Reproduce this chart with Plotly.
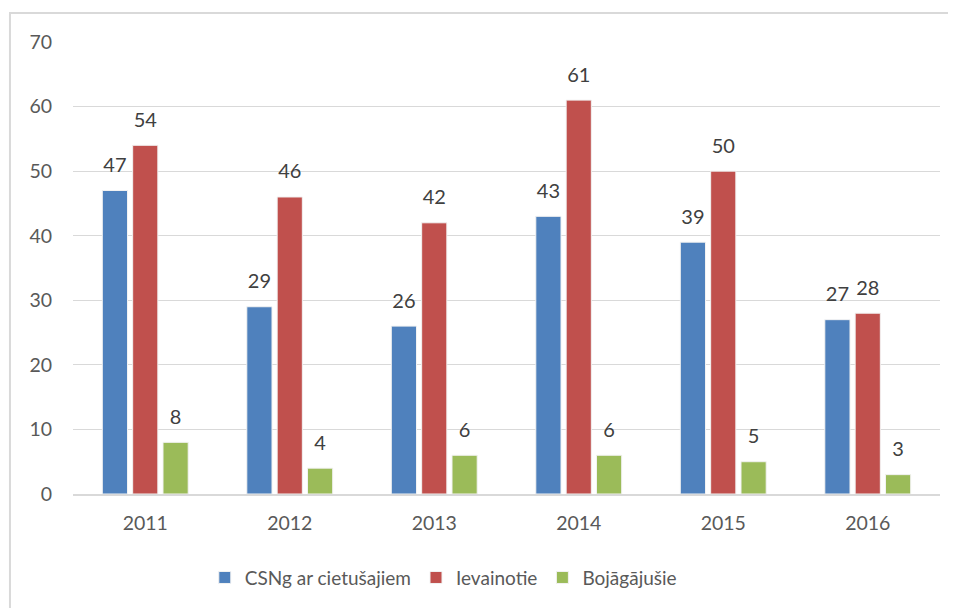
import plotly.graph_objects as go

years = ["2011", "2012", "2013", "2014", "2015", "2016"]
csng = [47, 29, 26, 43, 39, 27]
ievainotie = [54, 46, 42, 61, 50, 28]
bojagajusie = [8, 4, 6, 6, 5, 3]

series = [
    ("CSNg ar cietušajiem", csng, "#4F81BD"),
    ("Ievainotie", ievainotie, "#C0504D"),
    ("Bojāgājušie", bojagajusie, "#9BBB59"),
]

font = "Lato, 'Open Sans', sans-serif"

fig = go.Figure()
for i, (name, vals, color) in enumerate(series):
    fig.add_trace(go.Bar(
        x=years, y=vals, name=name, offsetgroup=str(i),
        marker=dict(color=color, line=dict(color="#F2F2F2", width=1)),
    ))
# data labels as text-only scatter, grouped like the bars
# (invisible markers push the text a bit above the bar top)
for i, (name, vals, color) in enumerate(series):
    fig.add_trace(go.Scatter(
        x=years, y=vals, mode="markers+text", text=vals, offsetgroup=str(i),
        marker=dict(size=20, color="rgba(0,0,0,0)"),
        textposition="top center", showlegend=False, hoverinfo="skip",
        cliponaxis=False,
        textfont=dict(size=20, color="#404040", family=font),
    ))

fig.update_layout(
    width=956, height=608,
    margin=dict(l=65, r=24, t=34, b=122),
    paper_bgcolor="white", plot_bgcolor="white",
    barmode="group", bargap=0.37, bargroupgap=0.17,
    scattermode="group", scattergap=0.37,
    font=dict(family=font, color="#595959", size=19),
    showlegend=True,
    legend=dict(orientation="h", x=0.152, xanchor="left", y=-0.185, yanchor="middle",
                font=dict(size=19, color="#595959"), itemwidth=30,
                traceorder="normal"),
    xaxis=dict(showgrid=False, showline=True, linecolor="#D9D9D9", linewidth=2,
               ticks="", ticklabelstandoff=11,
               tickfont=dict(size=19.5, color="#595959")),
    yaxis=dict(range=[0, 70], dtick=10, showgrid=True, gridcolor="#D9D9D9",
               gridwidth=1, zeroline=False, showline=False, ticks="",
               ticklabelstandoff=20,
               tickfont=dict(size=19.5, color="#595959")),
    shapes=[dict(type="rect", xref="paper", yref="paper",
                 x0=-0.0727, x1=1.02, y0=-0.26, y1=1.064,
                 line=dict(color="#D9D9D9", width=2), layer="below")],
)

fig.write_html("out.html")
